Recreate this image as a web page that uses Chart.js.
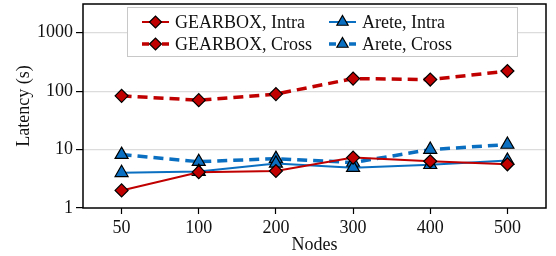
<!DOCTYPE html>
<html>
<head>
<meta charset="utf-8">
<script src="https://cdn.jsdelivr.net/npm/chart.js@4/dist/chart.umd.min.js"></script>
<style>
  html, body { margin: 0; padding: 0; background: #fff; }
  #wrap { width: 556px; height: 256px; }
</style>
</head>
<body>
<div id="wrap"><canvas id="chart" width="556" height="256"></canvas></div>
<script>
const nodes = ["50", "100", "200", "300", "400", "500"];
const gearboxIntra = [2.0, 4.1, 4.3, 7.3, 6.3, 5.6];
const gearboxCross = [83, 70, 89, 164, 158, 221];
const areteIntra = [4.0, 4.2, 5.8, 4.9, 5.5, 6.5];
const areteCross = [8.2, 6.2, 7.0, 6.0, 10.0, 12.2];
const yTicks = [1, 10, 100, 1000];

const RED = "#c00000";
const BLUE = "#0a6fc0";
const FONT = "'Liberation Serif', 'DejaVu Serif', serif";
const PLOT_TOP = 4;

function series(label, data, color, style, dashed) {
  return {
    label: label,
    data: data,
    borderColor: color,
    backgroundColor: color,
    borderWidth: dashed ? 3.5 : 2,
    borderDash: dashed ? [10, 6] : [],
    pointStyle: style,
    pointRadius: style == "triangle" ? 7.5 : 6.5,
    pointBorderColor: "#000",
    pointBackgroundColor: color,
    pointBorderWidth: 1.2,
    tension: 0,
    fill: false
  };
}

const datasets = [
  series("GEARBOX, Intra", gearboxIntra, RED, "rectRot", false),
  series("Arete, Intra", areteIntra, BLUE, "triangle", false),
  series("GEARBOX, Cross", gearboxCross, RED, "rectRot", true),
  series("Arete, Cross", areteCross, BLUE, "triangle", true)
];

// the layout keeps ~10px above the y scale, pull the plot up to the top edge
const plotTop = {
  id: "plotTop",
  afterLayout(chart) {
    const a = chart.chartArea;
    const y = chart.scales.y;
    a.top = PLOT_TOP;
    a.height = a.bottom - a.top;
    y.top = PLOT_TOP;
    y.height = y.bottom - y.top;
    if (y.configure) y.configure();
  }
};

// box around the plot area
const frame = {
  id: "frame",
  afterDatasetsDraw(chart) {
    const a = chart.chartArea;
    const ctx = chart.ctx;
    ctx.save();
    ctx.strokeStyle = "#000";
    ctx.lineWidth = 1.5;
    ctx.strokeRect(a.left, a.top, a.right - a.left, a.bottom - a.top);
    ctx.restore();
  }
};

// legend with line + marker samples, two columns
const lineLegend = {
  id: "lineLegend",
  afterDraw(chart) {
    const ctx = chart.ctx;
    ctx.save();
    ctx.fillStyle = "#fff";
    ctx.fillRect(127.5, 7.5, 390, 49);
    ctx.strokeStyle = "#c8c8c8";
    ctx.lineWidth = 1;
    ctx.strokeRect(127.5, 7.5, 390, 49);
    const cols = [142, 329];
    const rows = [22, 44];
    const order = [0, 1, 2, 3];
    order.forEach((di, k) => {
      const ds = chart.data.datasets[di];
      const x0 = cols[k % 2];
      const y = rows[Math.floor(k / 2)];
      ctx.strokeStyle = ds.borderColor;
      ctx.lineWidth = ds.borderWidth;
      ctx.beginPath();
      if (ds.borderDash.length) {
        ctx.moveTo(x0, y); ctx.lineTo(x0 + 7, y);
        ctx.moveTo(x0 + 20, y); ctx.lineTo(x0 + 27, y);
      } else {
        ctx.moveTo(x0, y); ctx.lineTo(x0 + 27, y);
      }
      ctx.stroke();
      ctx.fillStyle = ds.pointBackgroundColor;
      ctx.strokeStyle = ds.pointBorderColor;
      ctx.lineWidth = ds.pointBorderWidth;
      Chart.helpers.drawPoint(ctx, {
        pointStyle: ds.pointStyle,
        radius: ds.pointStyle == "triangle" ? 6.5 : 6,
        rotation: 0,
        borderWidth: ds.pointBorderWidth
      }, x0 + 13.5, y);
      ctx.fillStyle = "#111";
      ctx.font = "18px " + FONT;
      ctx.textBaseline = "middle";
      ctx.textAlign = "left";
      ctx.fillText(ds.label, x0 + 33, y + 1);
    });
    ctx.restore();
  }
};

const ctx = document.getElementById("chart").getContext("2d");
const myChart = new Chart(ctx, {
  type: "line",
  data: { labels: nodes, datasets: datasets },
  options: {
    responsive: false,
    animation: false,
    layout: { padding: { left: 0, right: 10, top: 4, bottom: 0 } },
    plugins: {
      legend: { display: false },
      tooltip: { enabled: false }
    },
    scales: {
      x: {
        type: "category",
        offset: true,
        grid: {
          offset: false,
          drawOnChartArea: false,
          color: "#000",
          tickLength: 6,
          tickWidth: 1.2
        },
        border: { display: false },
        ticks: {
          color: "#111",
          padding: 3,
          font: { family: FONT, size: 18 }
        },
        title: {
          display: true,
          text: "Nodes",
          color: "#111",
          padding: { top: -2, bottom: 0 },
          font: { family: FONT, size: 18 }
        },
        afterFit(scale) { scale.height = 48; }
      },
      y: {
        type: "logarithmic",
        min: 1,
        max: 3100,
        grid: {
          color: (c) => (c.tick && c.tick.value == 1 ? "rgba(0,0,0,0)" : "#dcdcdc"),
          lineWidth: 1.2,
          tickColor: "#000",
          tickLength: 7,
          tickWidth: 1.2
        },
        border: { display: false },
        afterBuildTicks(scale) {
          scale.ticks = yTicks.map(v => ({ value: v }));
        },
        ticks: {
          color: "#111",
          padding: 3,
          font: { family: FONT, size: 18 },
          callback: (v) => String(v)
        },
        title: {
          display: true,
          text: "Latency (s)",
          color: "#111",
          padding: { top: 13, bottom: 0 },
          font: { family: FONT, size: 18 }
        },
        afterFit(scale) {
          scale.width = 83;
        }
      }
    }
  },
  plugins: [plotTop, frame, lineLegend]
});
</script>
</body>
</html>
